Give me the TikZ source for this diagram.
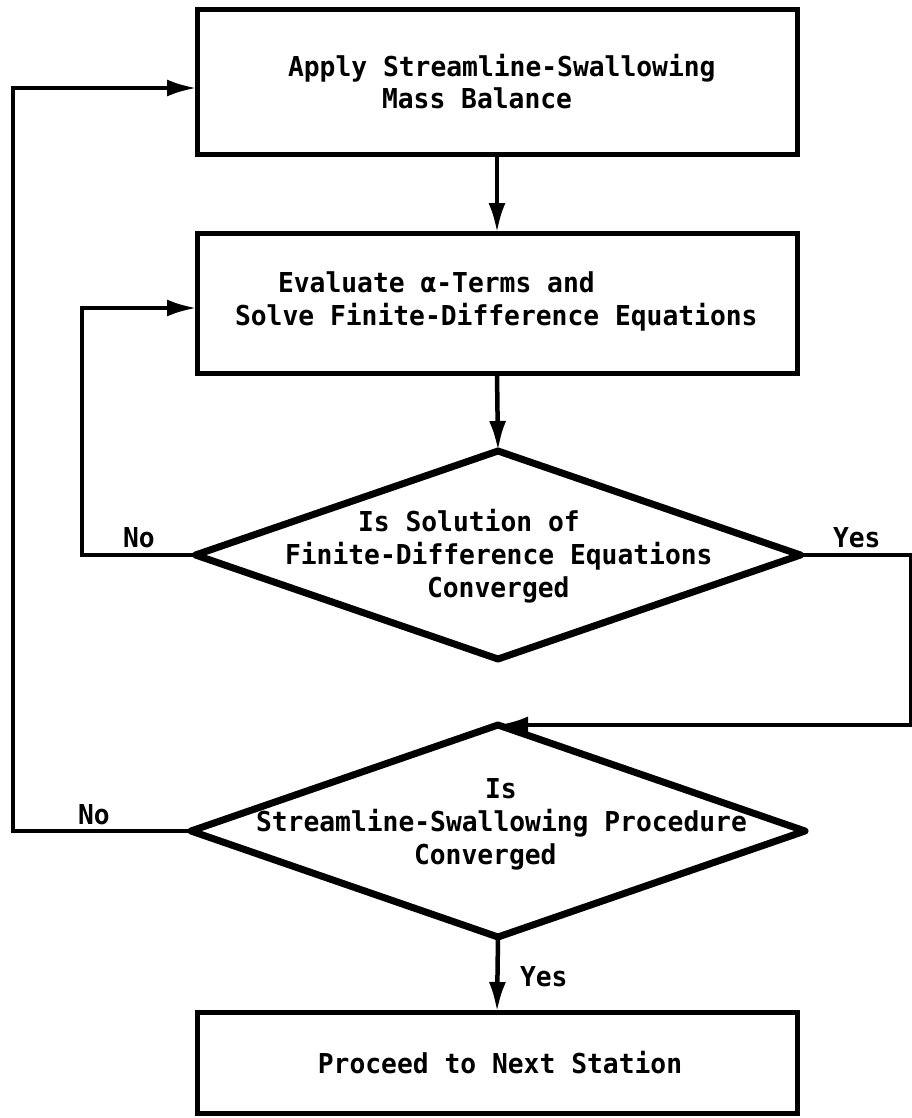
\documentclass[tikz,border=0pt]{standalone}
\usepackage{fontspec}
\newfontfamily\flowfont[FakeStretch=0.96]{DejaVu Sans Mono}
\usetikzlibrary{arrows.meta,shapes.geometric}
\begin{document}
\begin{tikzpicture}[x=1pt,y=-1pt,
  every node/.style={outer sep=0pt},
  box/.style={draw, line width=5pt, minimum width=600pt, inner sep=0pt},
  dia/.style={draw, diamond, line width=7pt, line join=round, minimum width=605pt, minimum height=208pt, inner sep=0pt},
  conn/.style={line width=4.5pt},
  arr/.style={conn, -{Latex[length=30pt,width=17pt]}},
  txt/.style={font=\flowfont\bfseries\fontsize{27.4}{33}\selectfont, inner sep=0pt, align=left},
  lbl/.style={font=\flowfont\bfseries\fontsize{27.4}{33}\selectfont, inner sep=0pt}
]
\useasboundingbox (0,0) rectangle (912,1118);
\fill[white] (0,0) rectangle (912,1118);

% boxes
\node[box, minimum height=145pt] (b1) at (497,82.5) {};
\node[box, minimum height=140pt] (b2) at (497,303) {};
\node[box, minimum height=101pt] (b3) at (497,1062.5) {};
% diamonds
\node[dia] (d1) at (498,555) {};
\node[dia, minimum width=614pt, minimum height=212pt] (d2) at (498,831) {};

% texts
\node[txt, anchor=west, font=\flowfont\bfseries\fontsize{27.4}{32}\selectfont] (t1) at (288,81.6) {Apply Streamline-Swallowing\\\hspace*{94pt}Mass Balance};
\node[txt, anchor=west] (t2) at (235,301.5) {\hspace*{43pt}Evaluate α-Terms and\\Solve Finite-Difference Equations};
\node[txt, anchor=west] (t3) at (285,556.5) {\hspace*{73pt}Is Solution of\\Finite-Difference Equations\\\hspace*{142pt}Converged};
\node[txt, anchor=west] (t4) at (256,824) {\hspace*{229pt}Is\\Streamline-Swallowing Procedure\\\hspace*{158pt}Converged};
\node[txt] (t5) at (500,1063) {Proceed to Next Station};

% labels
\node[lbl, anchor=base west] (no1) at (123,547) {No};
\node[lbl, anchor=base west] (yes1) at (833,547) {Yes};
\node[lbl, anchor=base west] (no2) at (78,824) {No};
\node[lbl, anchor=base west] (yes2) at (520,986) {Yes};

% helper coordinates
\coordinate (l1) at (13,88);
\coordinate (l2) at (82,308);
\coordinate (r1) at (911,555);

% connectors
\draw[arr] (b1.south) -- (b2.north);
\draw[arr] (b2.south) -- (d1.north);
\draw[arr] (d2.south) -- (b3.north);
\draw[arr] (d1.west) -- (d1.west -| l2) -- (l2) -- (l2 -| b2.west);
\draw[arr] (d2.west) -- (d2.west -| l1) -- (l1) -- (l1 -| b1.west);
\draw[arr] (d1.east) -- (r1) -- (r1 |- d2.north) -- (d2.north);
\end{tikzpicture}
\end{document}
